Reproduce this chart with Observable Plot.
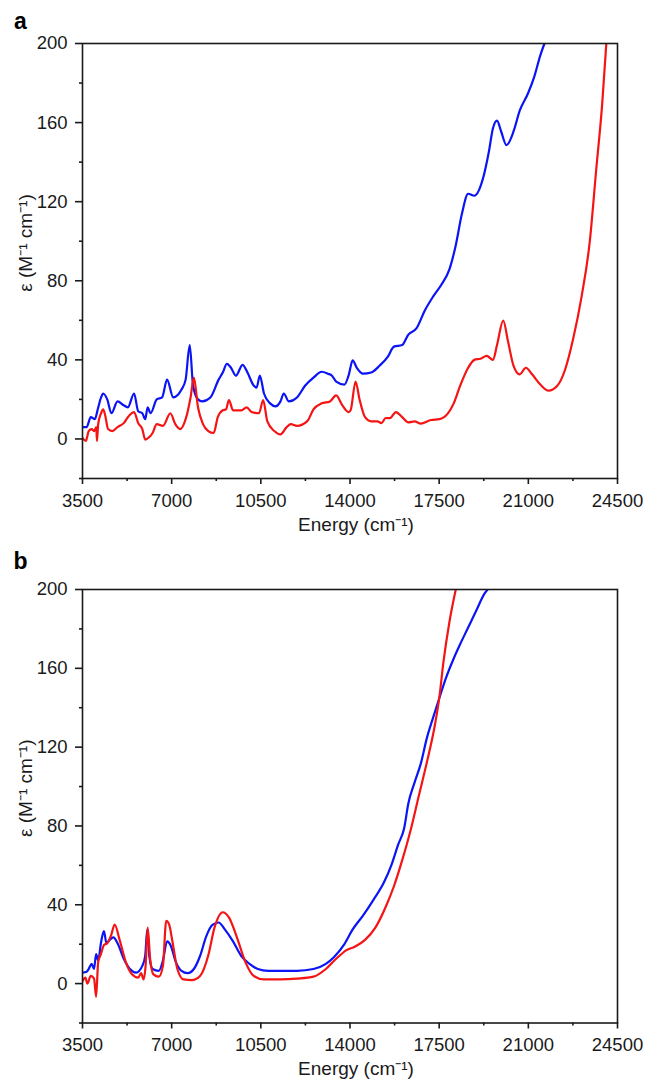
<!DOCTYPE html>
<html>
<head>
<meta charset="utf-8">
<script src="https://cdn.jsdelivr.net/npm/d3@7"></script>
<script src="https://cdn.jsdelivr.net/npm/@observablehq/plot@0.6"></script>
<style>
  html, body { margin: 0; padding: 0; background: #fff; }
  #wrap { width: 647px; }
  #wrap svg { display: block; }
</style>
</head>
<body>
<div id="wrap"></div>
<script>
// ---- axis ticks ----
const majorX = [3500, 7000, 10500, 14000, 17500, 21000, 24500];
const minorX = [5250, 8750, 12250, 15750, 19250, 22750];
const majorY = [0, 40, 80, 120, 160, 200];
const minorY = [-20, 20, 60, 100, 140, 180];
const xLabel = "Energy (cm⁻¹)";
const yLabel = "ε (M⁻¹ cm⁻¹)";

// ---- panel a, blue ----
const aBlueE = [3500,3662,3824,3986,4099,4229,4310,4471,4633,4876,5119,5281,5524,5686,5848,5961,6058,6171,6414,6625,6819,7062,7386,7548,7709,7839,8033,8195,8519,8843,9005,9167,9328,9523,9782,9976,10219,10332,10462,10624,10866,11077,11271,11401,11595,11919,12243,12566,12890,13133,13295,13457,13781,13943,14105,14267,14509,14833,15157,15481,15724,16047,16290,16614,16938,17262,17585,17909,18152,18395,18638,18881,19204,19447,19609,19771,19933,20143,20419,20661,20985,21228,21471,21633];
const aBlueV = [6,6,11,10,15,21,23,20,13,19,17,16,23,14,13,10,16,13,20,21,30,21,25,30,47.5,27,20,19,21,30,33.6,38,36,32,37.5,33.6,27,26,32,23,18,16.5,19,23,19,21,27,31,34,33,32,29,27.5,32,39.7,36,33,33.6,37,41.5,46.7,47.5,52.8,56,65,72,78,86,98,114,124,123,131,145,157,161,155.5,148.6,155.5,166,174.7,183,194,200];

// ---- panel a, red ----
const aRedE = [3500,3630,3743,3856,3953,4040,4067,4115,4229,4310,4390,4504,4666,4876,5119,5281,5524,5686,5848,5961,6123,6252,6414,6657,6948,7143,7337,7548,7742,7871,8033,8228,8438,8648,8810,9005,9134,9247,9409,9733,9944,10138,10429,10591,10753,11028,11271,11515,11676,11919,12324,12566,12890,13214,13457,13700,13943,14024,14218,14380,14590,14833,15076,15238,15400,15562,15804,16047,16290,16533,16776,17181,17504,17828,18071,18314,18638,18881,19123,19366,19609,19771,20014,20208,20419,20661,20904,21147,21471,21795,22119,22442,22766,23090,23413,23656,23899,24061];
const aRedV = [0.5,-1,4,5,4,6,-1,7.5,13,15,12,5,4,6,8,11,13.6,8,5,-0.3,1,3,7.5,6.6,13,7.5,5,10,21,31,16,7.5,4,3,11,14.5,15,19.7,14.5,14.5,16,13.6,13,19.7,9,4,2.3,6,7.5,6.6,9,15,18,19,22,17,13.6,14.5,29,19.7,11,8.9,8.9,8,10.6,10.5,13.6,11,8.4,8.9,7.8,9.6,10,12.7,18,26.6,36,40,40.6,42,40,47.5,59.8,49,37,32.7,36,32.7,27.5,24.4,26.6,35,51,72,100,135,169.5,200];

// ---- panel b, blue ----
const bBlueE = [3500,3662,3743,3856,3953,4034,4115,4229,4342,4439,4552,4714,4876,5119,5362,5605,5848,5961,6042,6123,6252,6495,6657,6819,6981,7143,7386,7628,7871,8114,8357,8600,8843,9086,9409,9733,10057,10381,10786,11271,11919,12566,13052,13376,13781,14105,14509,14914,15319,15643,15886,16128,16290,16533,16776,17019,17262,17504,17747,18071,18314,18638,18962,19285,19399];
const bBlueV = [5.6,6,7.4,10,7.4,15,11.7,21,26.6,20.5,22,23.5,20.5,12.6,7.4,5.6,9,14,27.5,14,7.4,6.5,11.7,21.4,18.7,11.7,6.5,5.3,7.4,14,24,29.8,31,27.5,21.4,14,10,7.4,6.5,6.5,6.5,7.4,10,13.5,20,27.5,34.5,42.4,51,60.8,70.4,79,91.4,102,111.5,124.7,135,144.8,154.4,165,172,180.7,189.5,198,200];

// ---- panel b, red ----
const bRedE = [3500,3613,3694,3824,3953,4034,4115,4229,4342,4471,4633,4763,4957,5200,5443,5686,5799,5896,5977,6058,6155,6285,6495,6657,6787,6900,7030,7224,7467,7790,8114,8438,8681,9005,9247,9571,9895,10219,10624,11271,11919,12566,13052,13457,13862,14186,14590,14995,15400,15724,16047,16371,16695,17019,17343,17504,17666,17909,18152];
const bRedV = [1.2,3,0,3.9,2.5,-6.7,10.9,15.2,19.6,20.5,24.9,30,22.2,10.9,4.7,3,5.3,2.1,9,28.4,12.6,4.7,3.5,9,31.9,30,21.4,7.4,2.1,1.8,3.9,14.4,28.4,36.2,33.6,23.1,10.9,3.9,2.1,2.1,2.5,3.5,7.4,12.6,17,18.7,22.2,28.4,38.9,49.4,62.5,77.4,95,112.4,132,145,163,184,200];

function series(E, V, name) {
  return E.map((e, i) => ({energy: e, eps: V[i], series: name}));
}

const BLUE = "#0a14f5";
const RED = "#f51414";
const INK = "#1a1a1a";
const FONT = "'Liberation Sans', Arial, sans-serif";

function panel({letter, height, marginTop, marginBottom, blue, red}) {
  return Plot.plot({
    width: 647,
    height,
    marginLeft: 82,
    marginRight: 30,
    marginTop,
    marginBottom,
    style: {fontFamily: FONT, fontSize: "18px", color: INK, background: "#fff"},
    x: {domain: [3500, 24500], label: null},
    y: {domain: [-20, 200], label: null},
    marks: [
      Plot.line(blue, {x: "energy", y: "eps", stroke: BLUE, strokeWidth: 2.2, curve: "monotone-x", clip: true}),
      Plot.line(red, {x: "energy", y: "eps", stroke: RED, strokeWidth: 2.2, curve: "monotone-x", clip: true}),
      Plot.frame({stroke: INK, strokeWidth: 1.6}),
      Plot.axisX({ticks: majorX, tickSize: 6, tickPadding: 9, strokeWidth: 1.6, stroke: INK,
        tickFormat: d => String(d), fontSize: 18.5, label: null}),
      Plot.axisX({ticks: minorX, tickSize: 3, strokeWidth: 1.6, stroke: INK,
        tickFormat: () => "", label: null}),
      Plot.axisY({ticks: majorY, tickSize: 7, tickPadding: 8, strokeWidth: 1.6, stroke: INK,
        tickFormat: d => String(d), fontSize: 18.5, label: null}),
      Plot.axisY({ticks: minorY, tickSize: 3, strokeWidth: 1.6, stroke: INK,
        tickFormat: () => "", label: null}),
      Plot.text([xLabel], {frameAnchor: "bottom", dy: 46, dx: 6, text: d => d,
        fontSize: 19, textAnchor: "middle", lineAnchor: "middle", fill: INK}),
      Plot.text([yLabel], {frameAnchor: "left", dx: -57, dy: -18, rotate: -90, text: d => d,
        fontSize: 19, textAnchor: "middle", lineAnchor: "middle", fill: INK}),
      Plot.text([letter], {frameAnchor: "top-left", dx: -62, dy: -(marginTop - 21), text: d => d,
        fontSize: 23, fontWeight: "bold", textAnchor: "middle", lineAnchor: "middle", fill: "#000"})
    ]
  });
}

const wrap = document.getElementById("wrap");
wrap.appendChild(panel({
  letter: "a", height: 540, marginTop: 43, marginBottom: 62,
  blue: series(aBlueE, aBlueV, "blue"), red: series(aRedE, aRedV, "red")
}));
wrap.appendChild(panel({
  letter: "b", height: 543, marginTop: 49, marginBottom: 60.5,
  blue: series(bBlueE, bBlueV, "blue"), red: series(bRedE, bRedV, "red")
}));
</script>
</body>
</html>
